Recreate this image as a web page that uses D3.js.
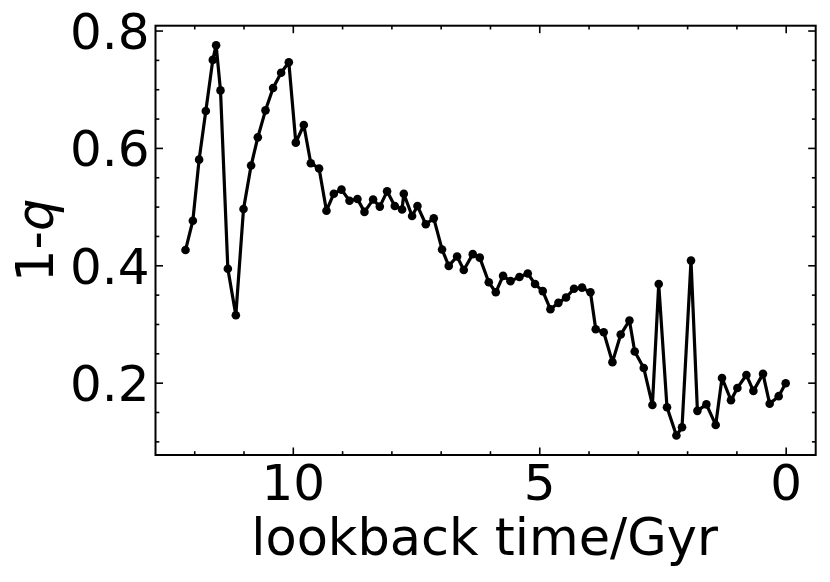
<!DOCTYPE html>
<html>
<head>
<meta charset="utf-8">
<script src="https://cdn.jsdelivr.net/npm/d3@7"></script>
<style>
  html, body { margin: 0; padding: 0; background: #fff; }
  svg { display: block; }
  text { font-family: "DejaVu Sans", sans-serif; fill: #000; }
</style>
</head>
<body>
<svg id="chart" width="830" height="582"></svg>
<script>
// Data
const lookbackTime = [12.177, 12.028, 11.901, 11.765, 11.623, 11.556, 11.467, 11.318, 11.156, 11.000,
  10.846, 10.710, 10.554, 10.400, 10.237, 10.081, 9.939, 9.777, 9.635, 9.467,
  9.317, 9.168, 9.012, 8.850, 8.688, 8.546, 8.371, 8.235, 8.087, 7.931,
  7.783, 7.748, 7.580, 7.471, 7.302, 7.140, 6.972, 6.836, 6.667, 6.531,
  6.349, 6.207, 6.024, 5.882, 5.734, 5.584, 5.402, 5.233, 5.085, 4.929,
  4.773, 4.611, 4.456, 4.294, 4.132, 3.961, 3.854, 3.692, 3.515, 3.347,
  3.170, 3.063, 2.880, 2.704, 2.576, 2.408, 2.217, 2.103, 1.921, 1.791,
  1.609, 1.420, 1.292, 1.110, 0.980, 0.797, 0.655, 0.460, 0.325, 0.142, 0.000];
const oneMinusQ = [0.426, 0.476, 0.580, 0.663, 0.750, 0.775, 0.698, 0.394, 0.315, 0.496,
  0.570, 0.618, 0.664, 0.702, 0.728, 0.746, 0.609, 0.639, 0.574, 0.565,
  0.493, 0.522, 0.529, 0.510, 0.513, 0.491, 0.512, 0.500, 0.526, 0.501,
  0.495, 0.522, 0.484, 0.501, 0.470, 0.480, 0.427, 0.399, 0.415, 0.392,
  0.419, 0.413, 0.371, 0.354, 0.382, 0.373, 0.380, 0.386, 0.368, 0.356,
  0.325, 0.336, 0.345, 0.360, 0.362, 0.354, 0.291, 0.286, 0.235, 0.282,
  0.306, 0.253, 0.225, 0.162, 0.368, 0.158, 0.110, 0.124, 0.408, 0.152,
  0.163, 0.128, 0.208, 0.170, 0.191, 0.213, 0.186, 0.215, 0.164, 0.177, 0.199];
const xMajorTicks = [10, 5, 0];
const xTickLabels = ["10", "5", "0"];
const xMinorTicks = [12, 11, 9, 8, 7, 6, 4, 3, 2, 1];
const yMajorTicks = [0.2, 0.4, 0.6, 0.8];
const yTickLabels = ["0.2", "0.4", "0.6", "0.8"];
const yMinorTicks = [0.1, 0.15, 0.25, 0.3, 0.35, 0.45, 0.5, 0.55, 0.65, 0.7, 0.75];
const xLabel = "lookback time/Gyr";

(function () {
const svg = d3.select("#chart");
const pLeft = 155.5, pRight = 815.7, pTop = 25.7, pBottom = 455;

// Axis limits with matplotlib-like 5% margins
const xMin = d3.min(lookbackTime), xMax = d3.max(lookbackTime);
const xm = (xMax - xMin) * 0.05;
const yMin = d3.min(oneMinusQ), yMax = d3.max(oneMinusQ);
const ym = (yMax - yMin) * 0.05;

const x = d3.scaleLinear().domain([xMax + xm, xMin - xm]).range([pLeft, pRight]);
const y = d3.scaleLinear().domain([yMin - ym, yMax + ym]).range([pBottom, pTop]);

const fontSize = 50;
const labelSize = 51;
const majorLen = 7.5, minorLen = 3.8;

function styleAxis(g) {
  g.select(".domain").remove();
  g.selectAll(".tick line").attr("stroke", "#000").attr("stroke-width", 1.6);
}

// bottom
svg.append("g").attr("transform", `translate(0,${pBottom})`)
  .call(d3.axisBottom(x).tickValues(xMajorTicks).tickSize(-majorLen)
    .tickFormat((d, i) => xTickLabels[i]))
  .call(styleAxis)
  .call(g => g.selectAll(".tick text").attr("font-size", fontSize).attr("font-family", "DejaVu Sans").attr("y", 8).attr("dy", "0.73em"));
svg.append("g").attr("transform", `translate(0,${pBottom})`)
  .call(d3.axisBottom(x).tickValues(xMinorTicks).tickSize(-minorLen).tickFormat(""))
  .call(styleAxis);
// top
svg.append("g").attr("transform", `translate(0,${pTop})`)
  .call(d3.axisTop(x).tickValues(xMajorTicks).tickSize(-majorLen).tickFormat(""))
  .call(styleAxis);
svg.append("g").attr("transform", `translate(0,${pTop})`)
  .call(d3.axisTop(x).tickValues(xMinorTicks).tickSize(-minorLen).tickFormat(""))
  .call(styleAxis);
// left
svg.append("g").attr("transform", `translate(${pLeft},0)`)
  .call(d3.axisLeft(y).tickValues(yMajorTicks).tickSize(-majorLen)
    .tickFormat((d, i) => yTickLabels[i]))
  .call(styleAxis)
  .call(g => g.selectAll(".tick text").attr("font-size", fontSize).attr("font-family", "DejaVu Sans").attr("x", -6).attr("dy", "0.36em"));
svg.append("g").attr("transform", `translate(${pLeft},0)`)
  .call(d3.axisLeft(y).tickValues(yMinorTicks).tickSize(-minorLen).tickFormat(""))
  .call(styleAxis);
// right
svg.append("g").attr("transform", `translate(${pRight},0)`)
  .call(d3.axisRight(y).tickValues(yMajorTicks).tickSize(-majorLen).tickFormat(""))
  .call(styleAxis);
svg.append("g").attr("transform", `translate(${pRight},0)`)
  .call(d3.axisRight(y).tickValues(yMinorTicks).tickSize(-minorLen).tickFormat(""))
  .call(styleAxis);

// frame
svg.append("rect").attr("x", pLeft).attr("y", pTop)
  .attr("width", pRight - pLeft).attr("height", pBottom - pTop)
  .attr("fill", "none").attr("stroke", "#000").attr("stroke-width", 2);

// data line + markers
const pts = lookbackTime.map((t, i) => [t, oneMinusQ[i]]);
svg.append("path").datum(pts)
  .attr("fill", "none").attr("stroke", "#000").attr("stroke-width", 3.2)
  .attr("stroke-linejoin", "round")
  .attr("d", d3.line().x(d => x(d[0])).y(d => y(d[1])));
svg.append("g").selectAll("circle").data(pts).join("circle")
  .attr("cx", d => x(d[0])).attr("cy", d => y(d[1])).attr("r", 4.3).attr("fill", "#000");

// axis labels
svg.append("text").attr("x", (pLeft + pRight) / 2 - 1).attr("y", 555)
  .attr("text-anchor", "middle").attr("font-size", labelSize).text(xLabel);
const yl = svg.append("text")
  .attr("transform", `translate(53,${(pTop + pBottom) / 2}) rotate(-90)`)
  .attr("text-anchor", "middle").attr("font-size", labelSize);
yl.append("tspan").text("1-");
yl.append("tspan").attr("font-style", "italic").text("q");
})();
</script>
</body>
</html>
